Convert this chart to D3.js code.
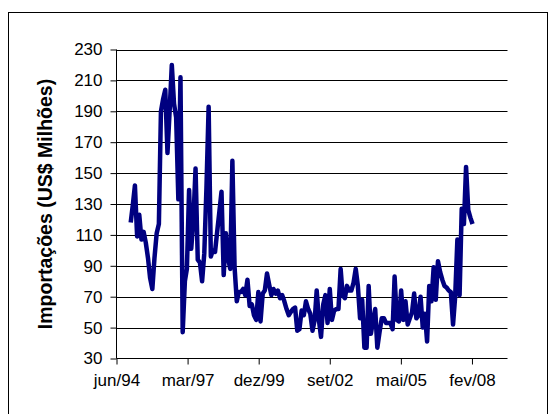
<!DOCTYPE html>
<html>
<head>
<meta charset="utf-8">
<script src="https://cdn.jsdelivr.net/npm/d3@7"></script>
<style>
  html, body { margin: 0; padding: 0; background: #ffffff; }
  svg { display: block; }
  text { font-family: Arial, "Liberation Sans", sans-serif; }
</style>
</head>
<body>
<svg id="chart" width="549" height="414"></svg>
<script>
// ---- data ----
const seriesStart = "1995-01-01"; // first monthly observation
const importacoes = [
  118,130,142,109,123,107,112,105,95,82,75,95,
  111,117,190,198,204,163,190,220,195,186,133,212,
  47,80,88,139,101,120,153,94,92,80,98,140,
  193,96,100,99,112,125,138,84,111,95,88,158,
  89,67,73,73,75,71,81,64,65,58,55,73,
  54,72,74,85,78,71,75,72,74,69,71,67,
  62,58,60,62,63,48,49,61,58,67,62,59,
  48,55,74,55,44,65,71,53,75,55,61,62,
  62,88,71,69,77,74,74,79,88,77,56,68,
  37,37,77,46,54,62,37,47,56,56,53,53,
  53,49,83,55,54,74,55,67,52,56,60,72,
  56,58,70,50,59,41,77,67,89,68,93,86,
  81,77,76,74,73,52,70,107,71,127,117,154,
  126,121,117
];
const yTicks = [30,50,70,90,110,130,150,170,190,210,230];
const xTickLabels = ["jun/94","mar/97","dez/99","set/02","mai/05","fev/08"];
const axisStart = "1994-06-15";   // Excel serial 34500
const axisDays = 5500;            // axis max = 40000
const tickStepDays = 1000;
const yTitle = "Importações (US$ Milhões)";

// ---- layout ----
const svg = d3.select("#chart");
const plot = {left: 116.5, right: 507.5, top: 49.5, bottom: 358.5};

// outer border
svg.append("rect")
  .attr("x", 8.5).attr("y", 12.5)
  .attr("width", 539).attr("height", 420)
  .attr("fill", "none").attr("stroke", "#000").attr("stroke-width", 1);

const parse = d3.utcParse("%Y-%m-%d");
const t0 = parse(axisStart);
const t1 = d3.utcDay.offset(t0, axisDays);
const x = d3.scaleUtc().domain([t0, t1]).range([plot.left, plot.right]);
const y = d3.scaleLinear().domain([30, 230]).range([plot.bottom, plot.top]);

const dates = d3.utcMonth.range(parse(seriesStart), d3.utcMonth.offset(parse(seriesStart), importacoes.length));
const data = importacoes.map((v, i) => ({date: dates[i], value: v}));

// gridlines
svg.append("g")
  .selectAll("line")
  .data(yTicks.filter(d => d !== 30))
  .join("line")
  .attr("x1", plot.left).attr("x2", plot.right)
  .attr("y1", d => Math.round(y(d)) + 0.5).attr("y2", d => Math.round(y(d)) + 0.5)
  .attr("stroke", "#000").attr("stroke-width", 1);

// y axis
const yAxis = d3.axisLeft(y).tickValues(yTicks).tickSize(6).tickPadding(8);
const gy = svg.append("g").attr("transform", `translate(${plot.left},0)`).call(yAxis);
gy.select(".domain").attr("stroke", "#000").attr("d", `M0,${plot.top}V${plot.bottom}`);
gy.selectAll(".tick line").attr("stroke", "#000");
gy.selectAll(".tick text").attr("font-size", 17).attr("fill", "#000")
  .attr("font-family", "Arial, 'Liberation Sans', sans-serif");

// x axis
const xTickDates = xTickLabels.map((_, i) => d3.utcDay.offset(t0, i * tickStepDays));
const xAxis = d3.axisBottom(x).tickValues(xTickDates)
  .tickFormat((d, i) => xTickLabels[i]).tickSize(6).tickPadding(9);
const gx = svg.append("g").attr("transform", `translate(0,${plot.bottom})`).call(xAxis);
gx.select(".domain").attr("stroke", "#000").attr("d", `M${plot.left},0H${plot.right}`);
gx.selectAll(".tick line").attr("stroke", "#000");
gx.selectAll(".tick text").attr("font-size", 17).attr("fill", "#000")
  .attr("font-family", "Arial, 'Liberation Sans', sans-serif");

// line
const line = d3.line().x(d => x(d.date)).y(d => y(d.value));
svg.append("path")
  .datum(data)
  .attr("d", line)
  .attr("fill", "none")
  .attr("stroke", "#000080")
  .attr("stroke-width", 4.5)
  .attr("stroke-linejoin", "round")
  .attr("stroke-linecap", "butt");

// y title
svg.append("text")
  .attr("transform", `translate(52,${(plot.top + plot.bottom) / 2}) rotate(-90)`)
  .attr("text-anchor", "middle")
  .attr("font-size", 19.5)
  .attr("font-weight", "bold")
  .attr("fill", "#000")
  .text(yTitle);
</script>
</body>
</html>
